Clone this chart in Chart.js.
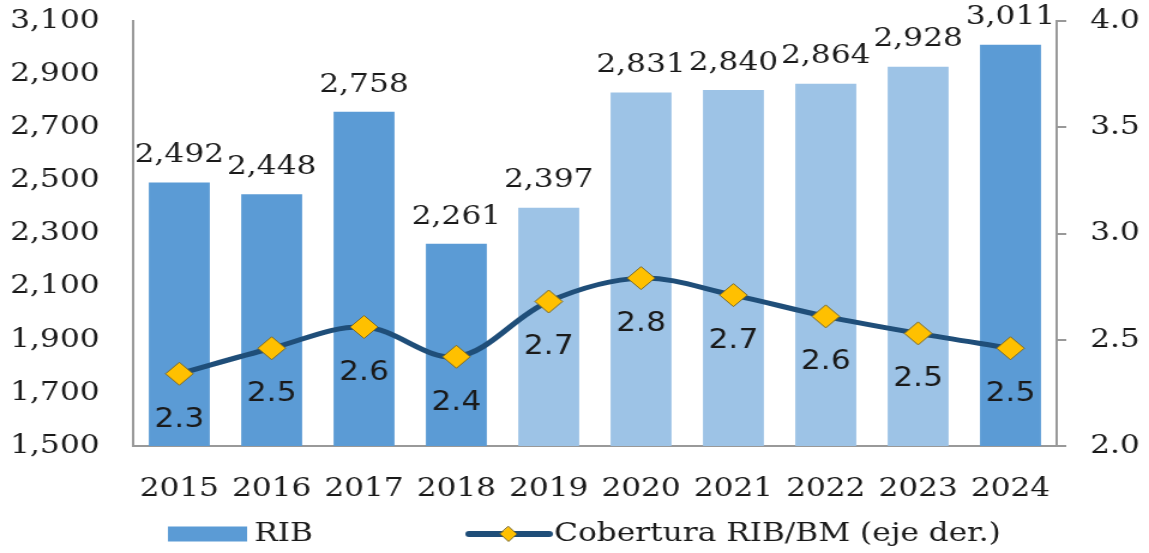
<!DOCTYPE html>
<html><head><meta charset="utf-8">
<script src="https://cdn.jsdelivr.net/npm/chart.js@4.4.1/dist/chart.umd.min.js"></script>
<style>html,body{margin:0;padding:0;background:#fff;overflow:hidden;}#c{display:block;width:1149px;height:553px;}</style>
</head><body><canvas id="c" width="958" height="553" style="width:1149px;height:553px;"></canvas>
<script>
const categories = ['2015','2016','2017','2018','2019','2020','2021','2022','2023','2024'];
const ribValues = [2492, 2448, 2758, 2261, 2397, 2831, 2840, 2864, 2928, 3011];
const coberturaValues = [2.34, 2.46, 2.56, 2.42, 2.68, 2.79, 2.71, 2.61, 2.53, 2.46];
const barColors = ['#5B9BD5','#5B9BD5','#5B9BD5','#5B9BD5','#9DC3E6','#9DC3E6','#9DC3E6','#9DC3E6','#9DC3E6','#5B9BD5'];
const leftTicks = [1500,1700,1900,2100,2300,2500,2700,2900,3100];
const rightTicks = [2.0,2.5,3.0,3.5,4.0];

const SERIF = '"DejaVu Serif", serif';
const FS = 26;
const lineColor = '#1F4E79';
const markerColor = '#FFC000';
const textColor = '#1a1a1a';

const labelPlugin = {
  id: 'labels',
  afterDatasetsDraw(chart) {
    const ctx = chart.ctx;
    ctx.save();
    ctx.textAlign = 'center';
    ctx.textBaseline = 'middle';
    ctx.fillStyle = textColor;
    const barMeta = chart.getDatasetMeta(1);
    ctx.font = FS + 'px ' + SERIF;
    barMeta.data.forEach((el, i) => {
      ctx.fillText(ribValues[i].toLocaleString('en-US'), el.x, el.y - 27);
    });
    const lineMeta = chart.getDatasetMeta(0);
    ctx.font = FS + 'px "DejaVu Sans", sans-serif';
    lineMeta.data.forEach((el, i) => {
      ctx.fillText(coberturaValues[i].toFixed(1), el.x, el.y + 46);
    });
    ctx.restore();
  },
  afterDraw(chart) {
    const ctx = chart.ctx;
    ctx.save();
    const ly = 534;
    ctx.fillStyle = '#5B9BD5';
    ctx.fillRect(140, ly - 7.5, 66, 15);
    ctx.fillStyle = textColor;
    ctx.font = FS + 'px ' + SERIF;
    ctx.textBaseline = 'middle';
    ctx.textAlign = 'left';
    ctx.fillText('RIB', 212, ly);
    ctx.strokeStyle = lineColor;
    ctx.lineWidth = 6;
    ctx.lineCap = 'round';
    ctx.beginPath(); ctx.moveTo(391, ly); ctx.lineTo(458, ly); ctx.stroke();
    ctx.fillStyle = markerColor;
    ctx.strokeStyle = '#7a6a2a';
    ctx.lineWidth = 1;
    ctx.beginPath();
    ctx.moveTo(424, ly - 7.5); ctx.lineTo(431, ly); ctx.lineTo(424, ly + 7.5); ctx.lineTo(417, ly); ctx.closePath();
    ctx.fill(); ctx.stroke();
    ctx.fillStyle = textColor;
    ctx.fillText('Cobertura RIB/BM (eje der.)', 462, ly);
    ctx.restore();
  }
};

new Chart(document.getElementById('c'), {
  data: {
    labels: categories,
    datasets: [
      {
        type: 'line', label: 'Cobertura RIB/BM (eje der.)', data: coberturaValues, yAxisID: 'y1',
        borderColor: lineColor, borderWidth: 5, tension: 0.35,
        pointStyle: 'rectRot', pointRadius: 11.5, pointBackgroundColor: markerColor,
        pointBorderColor: '#7a6a2a', pointBorderWidth: 1, order: 0
      },
      {
        type: 'bar', label: 'RIB', data: ribValues, yAxisID: 'y',
        backgroundColor: barColors, categoryPercentage: 1.0, barPercentage: 0.66, order: 1
      }
    ]
  },
  options: {
    responsive: false, animation: false,
    layout: { padding: { top: 21, bottom: 55, left: 0, right: 0 } },
    plugins: { legend: { display: false }, tooltip: { enabled: false } },
    scales: {
      x: {
        grid: { display: false },
        border: { display: true, color: '#999', width: 2 },
        ticks: { color: textColor, font: { family: SERIF, size: FS }, padding: 20, maxRotation: 0 },
        afterFit(s) { s.height = 52; s.paddingLeft = 0; s.paddingRight = 0; }
      },
      y: {
        position: 'left', min: 1500, max: 3100,
        afterBuildTicks(s) { s.ticks = leftTicks.map(v => ({ value: v })); },
        grid: { display: false },
        border: { display: true, color: '#999', width: 2 },
        ticks: { color: textColor, font: { family: SERIF, size: FS }, padding: 20,
          callback: v => v.toLocaleString('en-US') },
        afterFit(s) { s.width = 111; s.paddingTop = 0; s.paddingBottom = 0; }
      },
      y1: {
        position: 'right', min: 2.0, max: 4.0,
        afterBuildTicks(s) { s.ticks = rightTicks.map(v => ({ value: v })); },
        grid: { drawOnChartArea: false, drawTicks: true, tickLength: 8, color: '#999', lineWidth: 2 },
        border: { display: true, color: '#999', width: 2 },
        ticks: { color: textColor, font: { family: SERIF, size: FS }, padding: 20,
          callback: v => v.toFixed(1) },
        afterFit(s) { s.width = 77; s.paddingTop = 0; s.paddingBottom = 0; }
      }
    }
  },
  plugins: [labelPlugin]
});
</script></body></html>
